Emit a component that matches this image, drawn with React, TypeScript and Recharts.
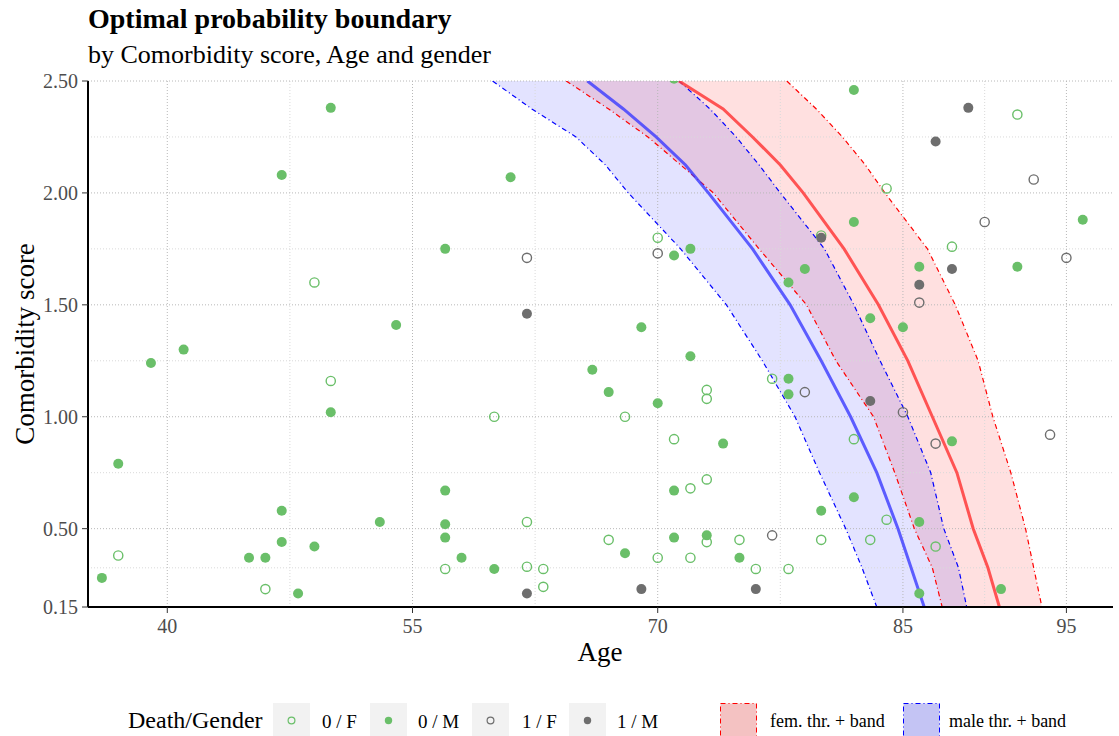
import React from "react";
import { Area, ComposedChart, Line, ReferenceLine, Scatter, XAxis, YAxis } from "recharts";

// comorbidity levels at which the boundary curves were read
const scoreLevels = [2.5, 2.375, 2.25, 2.125, 2.0, 1.75, 1.5, 1.25, 1.0, 0.75, 0.5, 0.325, 0.15];

// age of the boundary at each score level
const femLow = [64.4, 67.0, 69.4, 71.4, 73.4, 76.2, 79.1, 80.9, 83.2, 84.5, 85.7, 86.8, 87.4];
const femMid = [71.3, 74.0, 75.8, 77.5, 78.9, 81.4, 83.5, 85.3, 86.8, 88.3, 89.3, 90.2, 90.9];
const femHigh = [77.9, 79.7, 81.3, 82.7, 83.9, 86.5, 88.2, 89.6, 90.5, 91.6, 92.5, 93.0, 93.5];
const maleLow = [59.9, 62.3, 65.0, 66.8, 68.2, 71.4, 74.2, 76.4, 78.4, 79.9, 81.5, 82.5, 83.4];
const maleMid = [65.7, 67.9, 69.9, 71.7, 73.1, 75.8, 78.1, 80.0, 81.8, 83.4, 84.7, 85.5, 86.3];
const maleHigh = [71.3, 73.2, 74.8, 76.2, 77.5, 80.2, 82.0, 83.6, 85.3, 86.7, 87.5, 88.4, 88.9];

// patients: [age, comorbidity score]
const aliveFemale: [number, number][] = [
  [37, 0.38], [46, 0.23], [49, 1.6], [50, 1.16], [57, 0.32], [60, 1.0], [62, 0.53], [62, 0.33],
  [63, 0.32], [63, 0.24], [67, 0.45], [68, 1.0], [70, 1.8], [70, 0.37], [71, 0.9], [72, 0.68],
  [72, 0.37], [73, 1.12], [73, 1.08], [73, 0.72], [73, 0.44], [75, 0.45], [76, 0.32], [77, 1.17],
  [78, 0.32], [80, 1.81], [80, 0.45], [82, 0.9], [83, 0.45], [84, 2.02], [84, 0.54], [87, 0.42],
  [88, 1.76], [92, 2.35],
];
const aliveMale: [number, number][] = [
  [36, 0.28], [37, 0.79], [39, 1.24], [41, 1.3], [45, 0.37], [46, 0.37], [47, 2.08], [47, 0.58],
  [47, 0.44], [48, 0.21], [49, 0.42], [50, 2.38], [50, 1.02], [53, 0.53], [54, 1.41], [57, 1.75],
  [57, 0.67], [57, 0.52], [57, 0.46], [58, 0.37], [60, 0.32], [61, 2.07], [66, 1.21], [67, 1.11],
  [68, 0.39], [69, 1.4], [70, 1.06], [71, 2.51], [71, 1.72], [71, 0.67], [71, 0.46], [72, 1.75],
  [72, 1.27], [73, 0.47], [74, 0.88], [75, 0.37], [78, 1.6], [78, 1.17], [78, 1.1], [79, 1.66],
  [80, 0.58], [82, 2.46], [82, 1.87], [82, 0.64], [83, 1.44], [85, 1.4], [86, 1.67], [86, 0.53],
  [86, 0.21], [88, 0.89], [91, 0.23], [92, 1.67], [96, 1.88],
];
const deadFemale: [number, number][] = [
  [62, 1.71], [70, 1.73], [77, 0.47], [79, 1.11], [85, 1.02], [86, 1.51], [87, 0.88], [90, 1.87],
  [93, 2.06], [94, 0.92], [95, 1.71],
];
const deadMale: [number, number][] = [
  [62, 1.46], [62, 0.21], [69, 0.23], [76, 0.23], [80, 1.8], [83, 1.07], [86, 1.59], [87, 2.23],
  [88, 1.66], [89, 2.38],
];

const ageTicks = [40, 55, 70, 85, 95];
const ageMinor = [47.5, 62.5, 77.5, 90];
const scoreTicks = [0.15, 0.5, 1.0, 1.5, 2.0, 2.5];
const scoreMinor = [0.325, 0.75, 1.25, 1.75, 2.25];

const GREEN = "#6abf69";
const GRAY = "#6e6e6e";
const FONT = "'Liberation Serif', 'DejaVu Serif', serif";

const bandRows = scoreLevels.map((score, i) => ({
  score,
  fem: [femLow[i], femHigh[i]],
  male: [maleLow[i], maleHigh[i]],
  femLow: femLow[i],
  femMid: femMid[i],
  femHigh: femHigh[i],
  maleLow: maleLow[i],
  maleMid: maleMid[i],
  maleHigh: maleHigh[i],
}));

const toRows = (pts: [number, number][]) => pts.map(([age, score]) => ({ age, score }));

function dotShape(color: string, hollow: boolean) {
  return (props: any) => {
    const { cx, cy } = props;
    if (cx == null || cy == null) return <g />;
    return hollow ? (
      <circle cx={cx} cy={cy} r={4.6} fill="none" stroke={color} strokeWidth={1.4} />
    ) : (
      <circle cx={cx} cy={cy} r={5} fill={color} />
    );
  };
}

const pointLegend = [
  { label: "0 / F", color: GREEN, hollow: true, box: 273, text: 322 },
  { label: "0 / M", color: GREEN, hollow: false, box: 370, text: 418 },
  { label: "1 / F", color: GRAY, hollow: true, box: 472, text: 522 },
  { label: "1 / M", color: GRAY, hollow: false, box: 569, text: 617 },
];
const bandLegend = [
  { label: "fem. thr. + band", fill: "#f4c2c2", stroke: "#ff0000", box: 720, text: 770 },
  { label: "male thr. + band", fill: "#c4c4f4", stroke: "#0000ff", box: 903, text: 949 },
];

const dashDot = "5 3 1 3";

export default function App() {
  return (
    <div
      style={{
        position: "absolute",
        left: 0,
        top: 0,
        width: 1119,
        height: 736,
        background: "#fff",
        fontFamily: FONT,
        overflow: "hidden",
      }}
    >
      <div style={{ position: "absolute", left: 88, top: 5, fontSize: 28, lineHeight: 1, fontWeight: 700, whiteSpace: "nowrap" }}>
        Optimal probability boundary
      </div>
      <div style={{ position: "absolute", left: 88, top: 42, fontSize: 26, lineHeight: 1, whiteSpace: "nowrap" }}>
        by Comorbidity score, Age and gender
      </div>

      <ComposedChart
        layout="vertical"
        width={1119}
        height={736}
        data={bandRows}
        margin={{ top: 81, right: 6, left: 28, bottom: 79 }}
        style={{ position: "absolute", left: 0, top: 0 }}
      >
        <XAxis
          type="number"
          domain={[35.15, 97.85]}
          allowDataOverflow
          ticks={ageTicks}
          interval={0}
          height={50}
          tickSize={6}
          tickMargin={6}
          axisLine={{ stroke: "#000", strokeWidth: 2 }}
          tickLine={{ stroke: "#333" }}
          tick={{ fill: "#4d4d4d", fontSize: 20, fontFamily: FONT }}
        />
        <YAxis
          type="number"
          dataKey="score"
          reversed
          domain={[0.15, 2.5]}
          allowDataOverflow
          ticks={scoreTicks}
          interval={0}
          width={60}
          tickSize={6}
          tickMargin={4}
          tickFormatter={(v) => Number(v).toFixed(2)}
          axisLine={{ stroke: "#000", strokeWidth: 2 }}
          tickLine={{ stroke: "#333" }}
          tick={{ fill: "#4d4d4d", fontSize: 20, fontFamily: FONT }}
        />

        {scoreMinor.map((v) => (
          <ReferenceLine key={`ym${v}`} y={v} stroke="#d9d9d9" strokeDasharray="1 2" />
        ))}
        {ageMinor.map((v) => (
          <ReferenceLine key={`xm${v}`} x={v} stroke="#d9d9d9" strokeDasharray="1 2" />
        ))}
        {scoreTicks.map((v) => (
          <ReferenceLine key={`y${v}`} y={v} stroke="#b8b8b8" strokeDasharray="1 2" />
        ))}
        {ageTicks.map((v) => (
          <ReferenceLine key={`x${v}`} x={v} stroke="#b8b8b8" strokeDasharray="1 2" />
        ))}

        <Scatter data={toRows(aliveFemale)} dataKey="age" shape={dotShape(GREEN, true)} isAnimationActive={false} />
        <Scatter data={toRows(aliveMale)} dataKey="age" shape={dotShape(GREEN, false)} isAnimationActive={false} />
        <Scatter data={toRows(deadFemale)} dataKey="age" shape={dotShape(GRAY, true)} isAnimationActive={false} />
        <Scatter data={toRows(deadMale)} dataKey="age" shape={dotShape(GRAY, false)} isAnimationActive={false} />

        <Area dataKey="fem" type="linear" stroke="none" fill="#ff0000" fillOpacity={0.12} isAnimationActive={false} />
        <Area dataKey="male" type="linear" stroke="none" fill="#0000ff" fillOpacity={0.11} isAnimationActive={false} />

        <Line dataKey="femLow" type="linear" stroke="#ff0000" strokeWidth={1.2} strokeDasharray={dashDot} dot={false} activeDot={false} isAnimationActive={false} />
        <Line dataKey="femHigh" type="linear" stroke="#ff0000" strokeWidth={1.2} strokeDasharray={dashDot} dot={false} activeDot={false} isAnimationActive={false} />
        <Line dataKey="maleLow" type="linear" stroke="#0000ff" strokeWidth={1.2} strokeDasharray={dashDot} dot={false} activeDot={false} isAnimationActive={false} />
        <Line dataKey="maleHigh" type="linear" stroke="#0000ff" strokeWidth={1.2} strokeDasharray={dashDot} dot={false} activeDot={false} isAnimationActive={false} />
        <Line dataKey="femMid" type="linear" stroke="#ff3a3a" strokeOpacity={0.85} strokeWidth={3} dot={false} activeDot={false} isAnimationActive={false} />
        <Line dataKey="maleMid" type="linear" stroke="#3a3aff" strokeOpacity={0.8} strokeWidth={3} dot={false} activeDot={false} isAnimationActive={false} />
      </ComposedChart>

      <div
        style={{
          position: "absolute",
          left: 25,
          top: 344,
          transform: "translate(-50%, -50%) rotate(-90deg)",
          fontSize: 27,
          lineHeight: 1,
          whiteSpace: "nowrap",
        }}
      >
        Comorbidity score
      </div>
      <div
        style={{
          position: "absolute",
          left: 600,
          top: 639,
          transform: "translateX(-50%)",
          fontSize: 27,
          lineHeight: 1,
          whiteSpace: "nowrap",
        }}
      >
        Age
      </div>

      <div style={{ position: "absolute", left: 128, top: 708, fontSize: 24, lineHeight: 1, whiteSpace: "nowrap" }}>
        Death/Gender
      </div>
      {pointLegend.map((k) => (
        <React.Fragment key={k.label}>
          <svg style={{ position: "absolute", left: k.box, top: 703 }} width={37} height={35}>
            <rect x={0} y={0} width={37} height={35} fill="#f2f2f2" />
            {k.hollow ? (
              <circle cx={18.5} cy={17.5} r={3.4} fill="none" stroke={k.color} strokeWidth={1.2} />
            ) : (
              <circle cx={18.5} cy={17.5} r={3.7} fill={k.color} />
            )}
          </svg>
          <div style={{ position: "absolute", left: k.text, top: 712, fontSize: 19, lineHeight: 1, whiteSpace: "nowrap" }}>
            {k.label}
          </div>
        </React.Fragment>
      ))}
      {bandLegend.map((k) => (
        <React.Fragment key={k.label}>
          <svg style={{ position: "absolute", left: k.box, top: 703 }} width={37} height={35}>
            <rect x={0.5} y={0.5} width={36} height={40} fill={k.fill} stroke={k.stroke} strokeWidth={1} strokeDasharray={dashDot} />
          </svg>
          <div style={{ position: "absolute", left: k.text, top: 712, fontSize: 18, lineHeight: 1, whiteSpace: "nowrap" }}>
            {k.label}
          </div>
        </React.Fragment>
      ))}
    </div>
  );
}
